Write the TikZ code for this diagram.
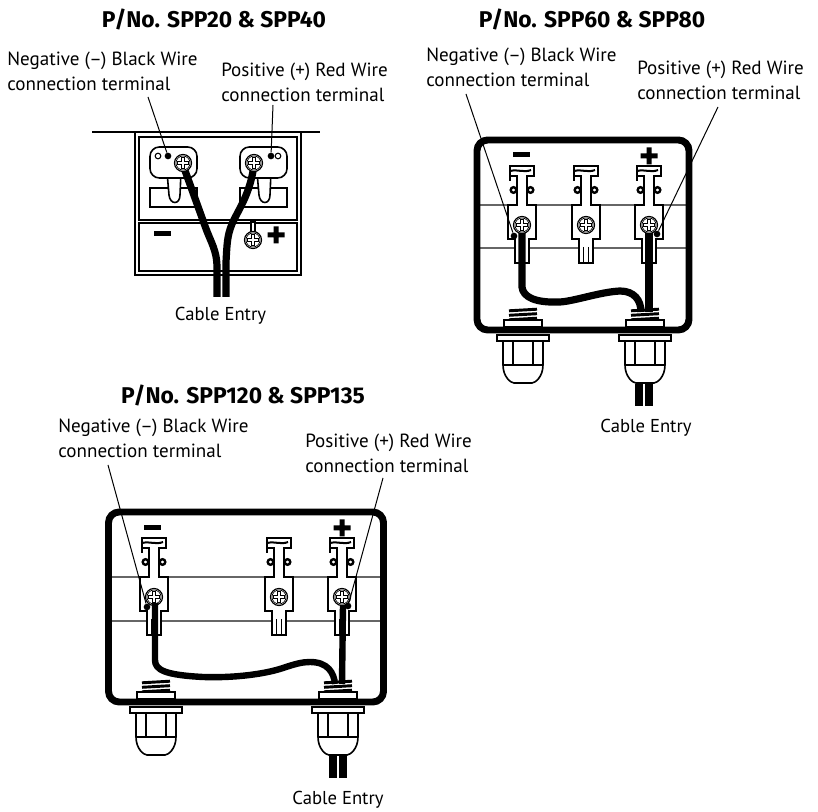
\documentclass[tikz,border=0pt]{standalone}
\usepackage{fontspec}
\setmainfont{PT Sans}
\newfontfamily\headfont{Fira Sans}
\tikzset{part/.style={draw,fill=white,line width=1.2pt,line join=miter}}
\tikzset{wire/.style={draw,line width=5.4pt,line cap=butt}}
\tikzset{leader/.style={draw,line width=0.75pt}}
\tikzset{dotmark/.style={circle,fill,inner sep=0pt,minimum size=5pt}}
\tikzset{divider/.style={draw,line width=1pt,black!60}}
\tikzset{boxwall/.style={draw,line width=5.2pt,rounded corners=8pt}}
\tikzset{heading/.style={font=\fontsize{17.1}{20}\headfont\bfseries,inner sep=0pt}}
\tikzset{callout/.style={font=\fontsize{14.3}{18.75}\selectfont,align=left,inner sep=0pt,anchor=north west}}
\tikzset{entry/.style={font=\fontsize{14}{18.75}\selectfont,inner sep=0pt}}
\newcommand{\screwhead}[2]{\begin{scope}[shift={(#1,#2)}]
    \draw[part,line width=0.9pt] (0,0) circle (8.5);
    \draw[line width=0.5pt] (0,0) circle (7);
    \draw[line width=3.2pt] (-5.6,0) -- (5.6,0) (0,-5.6) -- (0,5.6);
    \draw[white,line width=2pt] (-4.7,0) -- (4.7,0) (0,-4.7) -- (0,4.7);
\end{scope}}
\newcommand{\lugpost}[2]{\begin{scope}[shift={(#1,#2)}]
    \draw[part] (-12,-59) -- (12,-59) -- (12,-49) -- (5,-49) -- (5,-20) -- (14,-20)
        -- (14,14) -- (7,14) -- (7,38) -- (-7,38) -- (-7,14) -- (-14,14)
        -- (-14,-20) -- (-5,-20) -- (-5,-49) -- (-12,-49) -- (-12,-44) -- cycle;
    \draw[line width=1.5pt] (-12,-54) .. controls (-4,-56) and (2,-52) .. (9,-55);
    \foreach \s in {-8.5,8.5}{%
        \draw[part,line width=1.8pt] (\s,-35) circle (2.8);
      }
    \draw[line width=1pt] (-2.5,22) -- (-2.5,38) (2.5,22) -- (2.5,38);
    \screwhead{0}{0}
\end{scope}}
\newcommand{\cablegland}[2]{\begin{scope}[shift={(#1,#2)}]
    \foreach \t in {-20,-15.5,-11}{%
        \draw[line width=2.2pt] (-14,\t+0.8) -- (14,\t-0.8);
      }
    \draw[part] (-19,-10) rectangle (19,-3);
    \draw[part] (-20,11) -- (-20,35) .. controls (-20,47) and (-12,53) .. (-9,53)
        -- (9,53) .. controls (12,53) and (20,47) .. (20,35) -- (20,11);
    \draw[line width=1.2pt] (-20,35) -- (20,35) (-10,11) -- (-10,35) (10,11) -- (10,35);
    \draw[part] (-26,5) rectangle (26,11);
\end{scope}}
\newcommand{\minussign}[2]{\fill (#1-8.5,#2-2.5) rectangle (#1+8.5,#2+2.5);}
\newcommand{\plussign}[2]{\fill (#1-8.5,#2-2.5) rectangle (#1+8.5,#2+2.5)
                                (#1-2.5,#2-8.5) rectangle (#1+2.5,#2+8.5);}

\begin{document}
\begin{tikzpicture}[x=0.75pt,y=-0.75pt]
    \useasboundingbox (0,0) rectangle (818,812);
    % Headings
    \node[heading] (titleA) at (214,19) {P/No. SPP20 \& SPP40};
    \node[heading] (titleB) at (592,19) {P/No. SPP60 \& SPP80};
    \node[heading] (titleC) at (243,395) {P/No. SPP120 \& SPP135};
    % Callout texts
    \node[callout] (negA) at (7,52) {Negative (--) Black Wire\\connection terminal};
    \node[callout] (posA) at (221,63) {Positive (+) Red Wire\\connection terminal};
    \node[callout] (negB) at (426,48) {Negative (--) Black Wire\\connection terminal};
    \node[callout] (posB) at (637,61) {Positive (+) Red Wire\\connection terminal};
    \node[callout] (negC) at (58,419) {Negative (--) Black Wire\\connection terminal};
    \node[callout] (posC) at (305,434) {Positive (+) Red Wire\\connection terminal};
    \node[entry] (entryA) at (220.5,316) {Cable Entry};
    \node[entry] (entryB) at (646,428) {Cable Entry};
    \node[entry] (entryC) at (338,800) {Cable Entry};

    % Small box at the top left
    \draw[line width=2pt] (92,132) -- (320,132);
    \draw[line width=1.5pt] (135,132) rectangle (301,275);
    \draw[line width=1.2pt] (139,137) rectangle (297,220);
    \draw[line width=1.2pt] (139,223) rectangle (297,271);
    \foreach \bx/\lx in {150/167,240/257}{%
        \draw[line width=1.2pt] (\bx,188) rectangle (\bx+47,207);
        \draw[part] (\lx,172) -- (\lx+2,195) .. controls (\lx+3,205) and (\lx+13,205) .. (\lx+13,195) -- (\lx+14,172);
        \draw[part,rounded corners=7pt] (\bx,147) rectangle (\bx+47,178);
      }
    \draw[part,line width=0.8pt] (158,156) circle (2.8);
    \draw[part,line width=0.8pt] (278,156) circle (2.8);
    \draw[part,line width=0.8pt] (251,222) rectangle (255,233);
    \screwhead{253}{240}
    \minussign{162}{234}
    \plussign{276}{235}
    \draw[wire] (183,165) -- (205,226) .. controls (211,243) and (217,250) .. (217,268) -- (217,297);
    \draw[wire] (254,165) .. controls (250,195) and (238,210) .. (232,224)
        .. controls (227,236) and (227,245) .. (226,262) -- (226,297);
    \screwhead{183}{163}
    \screwhead{254}{163}
    \node[dotmark] (dotnegA) at (168,156) {};
    \node[dotmark] (dotposA) at (271,156) {};
    \coordinate (fromnegA) at (148,97);
    \coordinate (fromposA) at (273,105);
    \draw[leader] (fromnegA) -- (dotnegA);
    \draw[leader] (fromposA) -- (dotposA);

    % Box at the top right
    \draw[divider] (477,205) -- (689,205) (477,248) -- (689,248);
    \foreach \x in {522,586,649}{%
        \lugpost{\x}{225}
      }
    \minussign{521}{155}
    \plussign{649}{156}
    \draw[wire] (522,233) -- (522,287) .. controls (523,297) and (535,303) .. (560,302)
        .. controls (575,301) and (600,292) .. (620,291) .. controls (634,291) and (641,300) .. (641,312);
    \draw[wire] (649,233) -- (649,312);
    \draw[wire] (639,384) -- (639,406);
    \draw[wire] (649,384) -- (649,406);
    \draw[boxwall] (477,140) rectangle (689,330);
    \cablegland{523}{330}
    \cablegland{645}{330}
    \node[dotmark] (dotnegB) at (514,236) {};
    \node[dotmark] (dotposB) at (657,234) {};
    \coordinate (fromnegB) at (466,94);
    \coordinate (fromposB) at (718,107);
    \draw[leader] (fromnegB) -- (dotnegB);
    \draw[leader] (fromposB) -- (dotposB);

    % Box at the bottom
    \draw[divider] (108,577) -- (384,577) (108,621) -- (384,621);
    \foreach \x in {154,279,342}{%
        \lugpost{\x}{597}
      }
    \minussign{152}{528}
    \plussign{342}{528}
    \draw[wire,line width=4.8pt] (155,603) -- (155,660) .. controls (155,670) and (165,675) .. (203,677)
        .. controls (230,678) and (262,675) .. (283,668) .. controls (295,664) and (302,662) .. (310,662)
        .. controls (328,662) and (334,673) .. (335,684);
    \draw[wire,line width=4.8pt] (343,605) -- (342,684);
    \draw[wire] (333,753) -- (333,778);
    \draw[wire] (343,753) -- (343,778);
    \draw[boxwall] (108.5,512) rectangle (383.5,702);
    \cablegland{156}{702}
    \cablegland{338}{702}
    \node[dotmark] (dotnegC) at (147,607) {};
    \node[dotmark] (dotposC) at (348,606) {};
    \coordinate (fromnegC) at (108,465);
    \coordinate (fromposC) at (383,478);
    \draw[leader] (fromnegC) -- (dotnegC);
    \draw[leader] (fromposC) -- (dotposC);
\end{tikzpicture}
\end{document}
